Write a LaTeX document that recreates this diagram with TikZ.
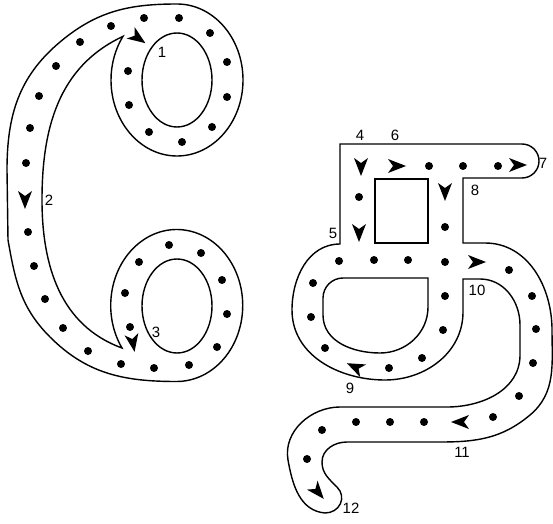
\documentclass[tikz,border=0pt]{standalone}
\usepackage{fontspec}
\setmainfont{Liberation Sans}
\tikzset{
	pics/pointer/.style={code={\fill (9,0) -- (-9,7) -- (-4,0) -- (-9,-7) -- cycle;}},
	num/.style={font=\fontsize{8.5}{9}\selectfont, inner sep=0pt},
}
\begin{document}
\begin{tikzpicture}[x=0.02cm, y=0.02cm, line width=0.8pt]
	\useasboundingbox (0,0) rectangle (553,-523);
	% left letter: outline
	\draw (177,-4) arc[start angle=90, end angle=-215, x radius=66, y radius=76]
		to[out=205,in=90] (42,-200) to[out=270,in=160] (122,-348)
		arc[start angle=214, end angle=-90, x radius=66, y radius=76]
		to[out=180,in=-45] (50,-337) to[out=135,in=-80] (8,-240)
		-- (7,-170) to[out=90,in=220] (60,-42) to[out=40,in=180] (177,-4) -- cycle;
	\draw (177,-80) ellipse[x radius=35, y radius=47];
	\draw (177,-306) ellipse[x radius=35, y radius=47];
	% right letter: outline
	\draw (340,-144) -- (522,-144) arc[start angle=90, end angle=-90, radius=17] -- (463,-178) -- (463,-243) -- (485,-243)
		to[out=0,in=90] (552,-330) to[out=-90,in=40] (530,-415) to[out=220,in=0] (440,-442) -- (347,-442)
		to[out=180,in=90] (322,-462) to[out=-90,in=135] (337,-487) to[out=-45,in=0,looseness=1.3] (325,-513)
		to[out=175,in=-80] (288,-460) to[out=100,in=180] (340,-407) -- (447,-407)
		to[out=0,in=-90] (520,-355) -- (520,-325) to[out=90,in=0] (480,-279) -- (463,-279)
		-- (463,-312) to[out=-90,in=0] (385,-380) to[out=180,in=-90] (292,-310) to[out=90,in=180] (340,-244) -- cycle;
	\draw (375,-179) rectangle (428,-243);
	\draw (428,-278) -- (428,-307) to[out=-90,in=0] (380,-353) to[out=180,in=-90] (323,-315)
		-- (323,-298) to[out=90,in=180] (343,-278) -- cycle;
	% dots
	\foreach \x/\y in {144/18,179/18,210/33,227/62,227/97,212/127,182/142,149/132,129/105,128/71,
		111/26,80/42,56/66,39/96,30/128,26/163,28/232,34/266,45/299,63/328,88/351,121/364,
		154/368,189/365,217/347,227/314,222/280,201/253,169/245,139/262,125/293,130/327}
		\fill (\x,-\y) circle (4);
	\foreach \x/\y in {429/166,463/166,498/166,359/197,445/227,339/261,374/260,408/260,445/262,
		313/283,311/317,325/348,389/368,422/358,443/330,445/296,
		509/270,532/296,536/329,533/363,519/396,493/417,424/422,390/422,356/422,322/430,307/459}
		\fill (\x,-\y) circle (4);
	% direction marks
	\foreach \x/\y/\a in {138/38/-35,25/200/-90,133/343/-80,361/167/-90,397/166/0,518/165/0,
		445/192/-90,359/233/-90,355/367/155,477/262/0,460/422/180,318/492/-50}
		\pic[rotate=\a] at (\x,-\y) {pointer};
	% numbers
	\node[num] (n1) at (162,-52) {1};
	\node[num] (n2) at (49,-200) {2};
	\node[num] (n3) at (156,-332) {3};
	\node[num] (n4) at (360,-135) {4};
	\node[num] (n5) at (333,-233) {5};
	\node[num] (n6) at (395,-135) {6};
	\node[num] (n7) at (543,-163) {7};
	\node[num] (n8) at (475,-190) {8};
	\node[num] (n9) at (350,-388) {9};
	\node[num] (n10) at (477,-290) {10};
	\node[num] (n11) at (462,-452) {11};
	\node[num] (n12) at (351,-508) {12};
\end{tikzpicture}
\end{document}
